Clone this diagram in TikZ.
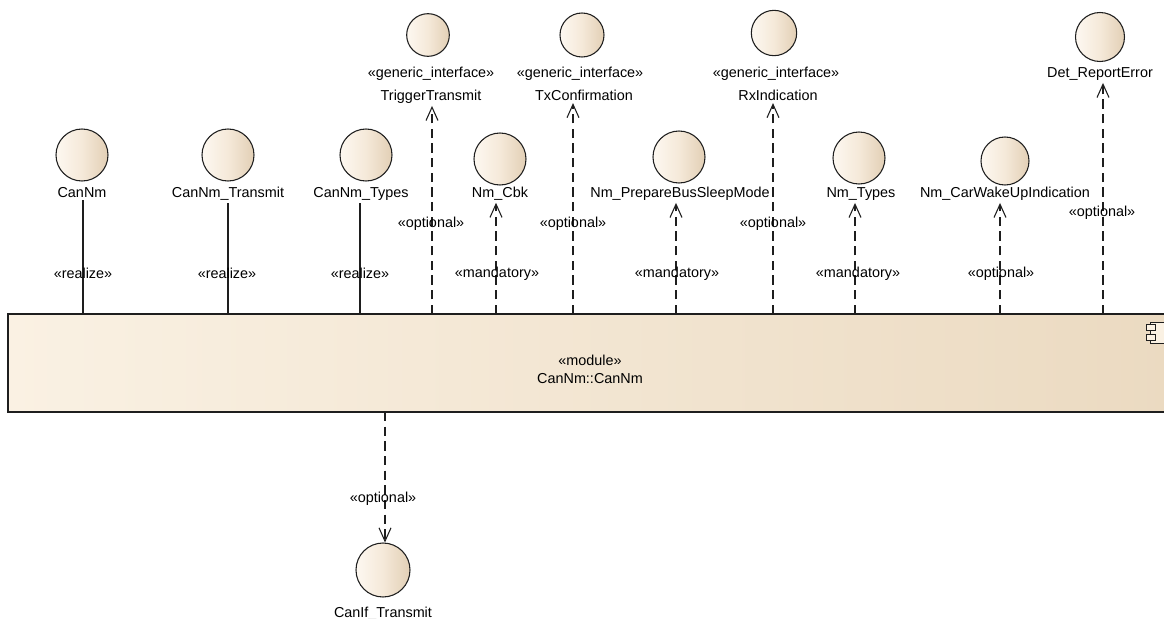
\documentclass[tikz,border=0pt]{standalone}
\usepackage{fontspec}
\setmainfont{Liberation Sans}
\usetikzlibrary{arrows.meta}
\definecolor{tanL}{RGB}{253,248,241}
\definecolor{tanM}{RGB}{245,233,217}
\definecolor{tanR}{RGB}{226,207,181}
\definecolor{boxL}{RGB}{250,241,227}
\definecolor{boxR}{RGB}{235,218,193}
\definecolor{ink}{RGB}{30,30,30}
\tikzset{
	iface/.style={circle,draw=ink,line width=.8pt,left color=tanL,right color=tanR,middle color=tanM,minimum size=#1,inner sep=0pt},
	iface/.default=39pt,
	lbl/.style={font=\fontsize{10.8}{13}\selectfont,inner sep=2pt,anchor=base},
	realize/.style={draw=ink,line width=.8pt},
	dep/.style={draw=ink,line width=.8pt,dash pattern=on 7pt off 4pt,-{Straight Barb[length=10pt,width=9pt,line width=.8pt]}}
}
\begin{document}
\begin{tikzpicture}[x=.75pt,y=-.75pt]
	\clip (0,0) rectangle (1164,618);
	\fill[white] (0,0) rectangle (1164,618);
	% module
	\node[draw=ink,line width=.9pt,left color=boxL,right color=boxR,minimum width=873pt,minimum height=73.5pt,inner sep=0pt] (mod) at (590,363) {};
	\node[lbl] (modS) at (590,365) {«module»};
	\node[lbl] (modN) at (590,383) {CanNm::CanNm};
	\draw[ink,line width=.75pt,fill=boxL] (1150,322) rectangle (1185,343);
	\draw[ink,line width=.75pt,fill=boxL] (1146,324) rectangle (1155,330);
	\draw[ink,line width=.75pt,fill=boxL] (1146,334) rectangle (1155,340);
	% realized interfaces
	\node[iface] (cannm) at (82,155) {};
	\node[lbl] (cannmL) at (82,197) {CanNm};
	\node[iface] (cannmTx) at (228,155) {};
	\node[lbl] (cannmTxL) at (228,197) {CanNm\_Transmit};
	\node[iface] (cannmTy) at (366,155) {};
	\node[lbl] (cannmTyL) at (361,197) {CanNm\_Types};
	% used interfaces
	\node[iface=32pt] (trg) at (428,35) {};
	\node[lbl] (trgS) at (431,77) {«generic\_interface»};
	\node[lbl] (trgL) at (431,100) {TriggerTransmit};
	\node[iface=33pt] (txc) at (582,35) {};
	\node[lbl] (txcS) at (580,77) {«generic\_interface»};
	\node[lbl] (txcL) at (584,100) {TxConfirmation};
	\node[iface=34pt] (rxi) at (774,33) {};
	\node[lbl] (rxiS) at (776,77) {«generic\_interface»};
	\node[lbl] (rxiL) at (778,100) {RxIndication};
	\node[iface=36.75pt] (det) at (1100,37) {};
	\node[lbl] (detL) at (1100,77) {Det\_ReportError};
	\node[iface] (cbk) at (500,159) {};
	\node[lbl] (cbkL) at (500,197) {Nm\_Cbk};
	\node[iface] (pbs) at (679,157) {};
	\node[lbl] (pbsL) at (680,197) {Nm\_PrepareBusSleepMode};
	\node[iface] (nmt) at (859,158) {};
	\node[lbl] (nmtL) at (861,197) {Nm\_Types};
	\node[iface=36pt] (cwu) at (1005,161) {};
	\node[lbl] (cwuL) at (1005,197) {Nm\_CarWakeUpIndication};
	\node[iface=40.5pt] (canif) at (383,570) {};
	\node[lbl] (canifL) at (383,617) {CanIf\_Transmit};
	% connectors
	\coordinate (p1) at (83,314);
	\coordinate (p2) at (228,314);
	\coordinate (p3) at (360,314);
	\coordinate (p4) at (432,314);
	\coordinate (p5) at (496,314);
	\coordinate (p6) at (573,314);
	\coordinate (p7) at (676,314);
	\coordinate (p8) at (773,314);
	\coordinate (p9) at (855,314);
	\coordinate (p10) at (1000,314);
	\coordinate (p11) at (1103,314);
	\coordinate (q1) at (385,412);
	\draw[realize] (p1) -- (p1 |- cannmL.south);
	\draw[realize] (p2) -- (p2 |- cannmTxL.south);
	\draw[realize] (p3) -- (p3 |- cannmTyL.south);
	\draw[dep] (p4) -- (p4 |- trgL.south);
	\draw[dep] (p5) -- (p5 |- cbkL.south);
	\draw[dep] (p6) -- (p6 |- txcL.south);
	\draw[dep] (p7) -- (p7 |- pbsL.south);
	\draw[dep] (p8) -- (p8 |- rxiL.south);
	\draw[dep] (p9) -- (p9 |- nmtL.south);
	\draw[dep] (p10) -- (p10 |- cwuL.south);
	\draw[dep] (p11) -- (p11 |- detL.south);
	\draw[dep] (q1) -- (q1 |- canif.north);
	% stereotypes
	\node[lbl] (r1) at (83,278) {«realize»};
	\node[lbl] (r2) at (227,278) {«realize»};
	\node[lbl] (r3) at (360,278) {«realize»};
	\node[lbl] (o1) at (431,227) {«optional»};
	\node[lbl] (o2) at (573,227) {«optional»};
	\node[lbl] (o3) at (773,227) {«optional»};
	\node[lbl] (o4) at (1001,277) {«optional»};
	\node[lbl] (o5) at (1102,216) {«optional»};
	\node[lbl] (o6) at (383,502) {«optional»};
	\node[lbl] (m1) at (497,277) {«mandatory»};
	\node[lbl] (m2) at (677,277) {«mandatory»};
	\node[lbl] (m3) at (858,277) {«mandatory»};
\end{tikzpicture}
\end{document}
